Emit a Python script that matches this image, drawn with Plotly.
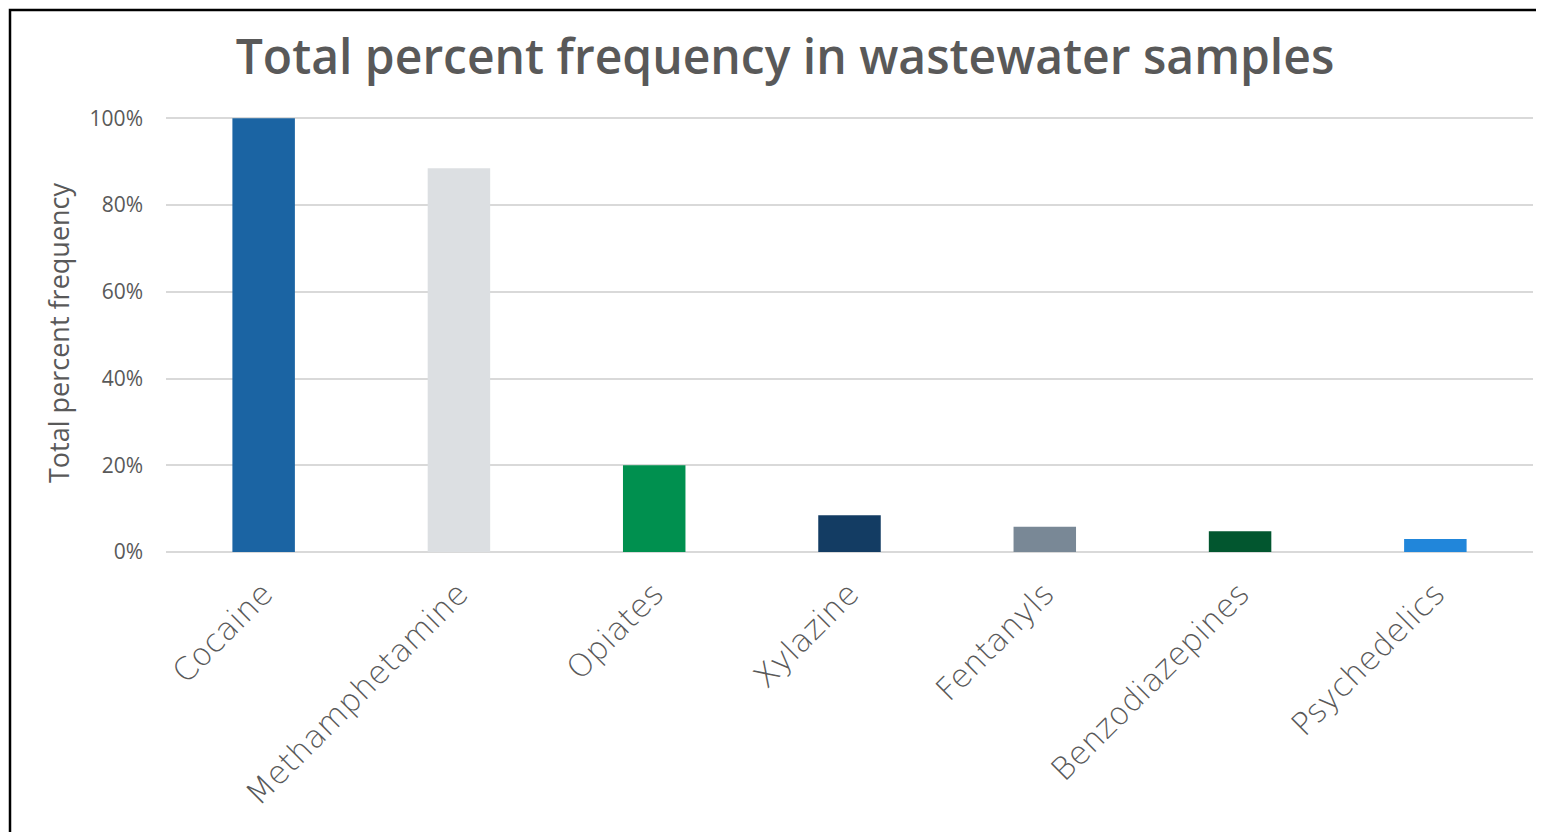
import plotly.graph_objects as go

categories = ["Cocaine", "Methamphetamine", "Opiates", "Xylazine", "Fentanyls", "Benzodiazepines", "Psychedelics"]
values = [100, 88.5, 20, 8.5, 5.8, 4.8, 3.0]
colors = ["#1B64A3", "#DCDFE2", "#00904F", "#133C63", "#798896", "#02562F", "#2186DA"]
y_ticks = [0, 20, 40, 60, 80, 100]
y_tick_labels = ["0%", "20%", "40%", "60%", "80%", "100%"]

# page has an 8px body margin; work in reference pixel coords minus 8
OFF = 8
W, H = 1536, 824
L = 166 - OFF
R = W - (1533 - OFF)
Y0 = 552 - OFF          # pixel of 0%
PX_PER = 4.34           # pixels per percent
YMAX = 101
T = Y0 - YMAX * PX_PER
B = H - Y0
pw, ph = W - L - R, H - T - B

def px_x(px):
    return (px - OFF - L) / pw

def px_y(py):
    return (Y0 - (py - OFF)) / ph

fig = go.Figure(go.Bar(x=categories, y=values, marker=dict(color=colors, line=dict(width=0)),
                       hoverinfo="x+y"))

fig.update_layout(
    width=W, height=H,
    margin=dict(l=L, r=R, t=T, b=B, autoexpand=False),
    paper_bgcolor="white", plot_bgcolor="white",
    bargap=0.68,
    showlegend=False,
    title=dict(text="Total percent frequency in wastewater samples",
               x=(785 - OFF) / W, xanchor="center", xref="container",
               y=1 - (57 - OFF) / H, yanchor="middle", yref="container",
               font=dict(family="Open Sans", size=48, color="#595959", weight=600)),
    xaxis=dict(tickangle=-45, tickfont=dict(family="DejaVu Sans", size=31.5, color="#595959", weight=200),
               showgrid=False, showline=False, ticks="", ticklabelstandoff=16),
    yaxis=dict(range=[0, YMAX], tickvals=y_ticks, ticktext=y_tick_labels,
               tickfont=dict(family="Open Sans", size=21, color="#595959"),
               showgrid=True, gridcolor="#D9D9D9", gridwidth=1.5,
               zeroline=True, zerolinecolor="#D9D9D9", zerolinewidth=2,
               ticks="", ticklabelstandoff=22,
               title=dict(text="Total percent frequency",
                          font=dict(family="Open Sans", size=27, color="#595959"),
                          standoff=12)),
    shapes=[dict(type="rect", xref="paper", yref="paper",
                 x0=px_x(10), x1=px_x(1570), y0=px_y(860), y1=px_y(9.5),
                 line=dict(color="black", width=2.5), fillcolor="rgba(0,0,0,0)", layer="above")],
)

fig.write_html("out.html")
